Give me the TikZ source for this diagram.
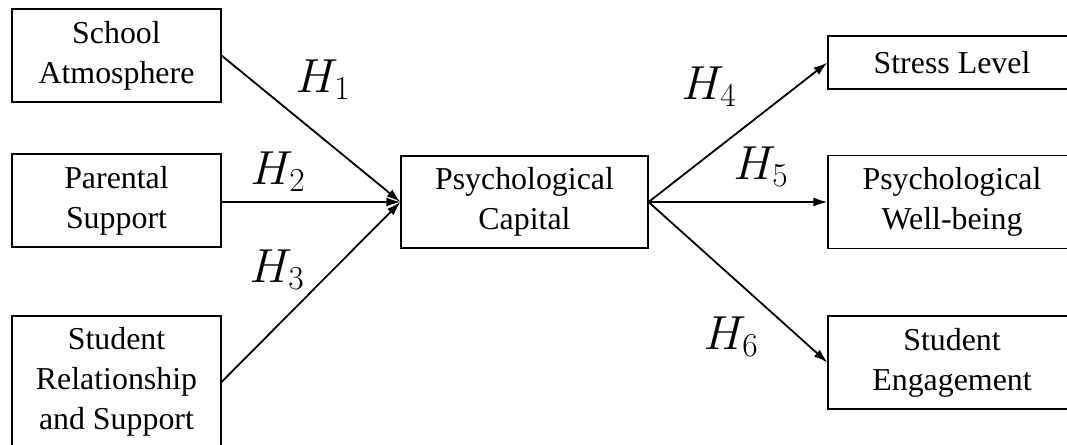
\documentclass[tikz,border=0pt]{standalone}
\usepackage{fix-cm}
\usepackage{fontspec}
\setmainfont{Liberation Serif}
\usetikzlibrary{arrows.meta,positioning}
\tikzset{
  varbox/.style={draw, line width=1.1pt, inner sep=0pt, align=center,
    minimum width=209bp, minimum height=93bp,
    font=\fontsize{32}{40}\selectfont},
  pathln/.style={-{Latex[length=14bp,width=9bp]}, line width=1.8pt},
  hyplab/.style={inner sep=0pt, font=\fontsize{48}{52}\selectfont},
}

\begin{document}
\begin{tikzpicture}[x=1bp, y=-1bp]
  \useasboundingbox (0,0) rectangle (1067,445);
  % antecedents
  \node[varbox] (school) at (116.5,55.5) {School\\Atmosphere};
  \node[varbox] (parent) at (116.5,200.5) {Parental\\Support};
  \node[varbox, minimum height=132bp] (peer) at (116.5,382)
    {Student\\Relationship\\and Support};
  % mediator
  \node[varbox, minimum width=247bp, minimum height=92bp] (capital)
    at (524.5,202) {Psychological\\Capital};
  % outcomes
  \node[varbox, minimum width=248bp, minimum height=53bp] (stress)
    at (952,62.5) {Stress Level};
  \node[varbox, minimum width=248bp] (wellbeing) at (952,202)
    {Psychological\\Well-being};
  \node[varbox, minimum width=248bp] (engage) at (952,362.5)
    {Student\\Engagement};
  % paths
  \draw[pathln] (school.east) -- (capital.west);
  \draw[pathln] (parent.east |- capital.west) -- (capital.west);
  \draw[pathln] (peer.east) -- (capital.west);
  \draw[pathln] (capital.east) -- (stress.west);
  \draw[pathln] (capital.east) -- (wellbeing.west);
  \draw[pathln] (capital.east) -- (engage.west);
  % hypotheses
  \node[hyplab] (h1) at (323,80) {$H_1$};
  \node[hyplab] (h2) at (278,172) {$H_2$};
  \node[hyplab] (h3) at (277,270) {$H_3$};
  \node[hyplab] (h4) at (709,87) {$H_4$};
  \node[hyplab] (h5) at (761,167) {$H_5$};
  \node[hyplab] (h6) at (731,337) {$H_6$};
\end{tikzpicture}
\end{document}
